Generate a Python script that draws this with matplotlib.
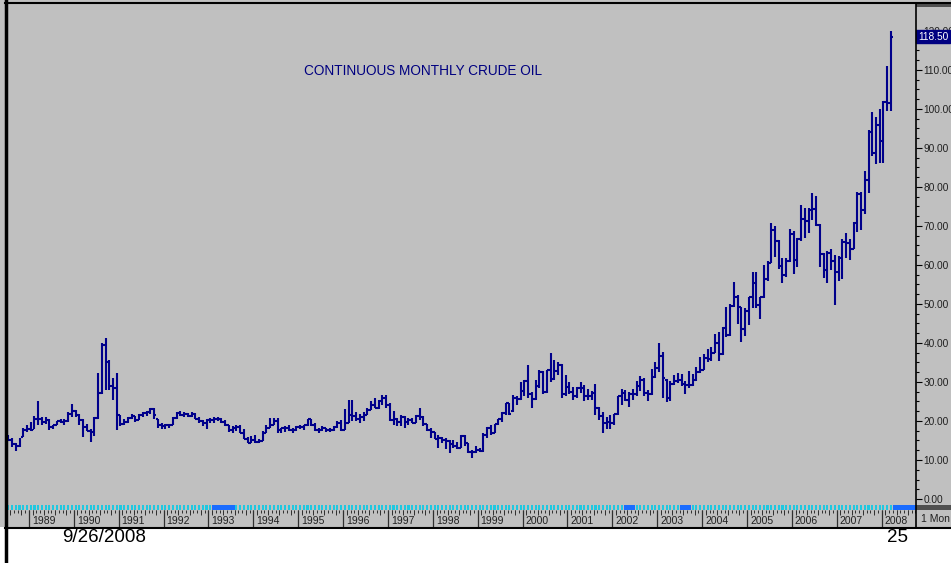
import numpy as np
import matplotlib
matplotlib.use("Agg")
import matplotlib.pyplot as plt
from matplotlib.lines import Line2D
from matplotlib.patches import Rectangle
from matplotlib.ticker import FormatStrFormatter
from matplotlib.transforms import blended_transform_factory

# monthly crude oil bars, Aug 1988 .. Apr 2008 (one row per year)
opens = [
    15.4, 15.2, 14.2, 13.6, 16.0,
    17.6, 18.0, 18.0, 20.5, 20.6, 19.8, 20.3, 18.5, 18.9, 19.9, 19.8, 20.1,
    21.8, 22.6, 21.5, 20.3, 18.5, 17.5, 17.1, 20.7, 27.3, 39.5, 35.2, 29.0,
    28.4, 21.5, 19.3, 19.7, 20.8, 21.3, 20.3, 21.6, 22.0, 22.2, 23.2, 20.4,
    19.1, 18.8, 18.9, 19.1, 20.7, 22.1, 21.6, 21.8, 21.4, 21.9, 20.6, 19.9,
    19.5, 20.3, 20.2, 20.4, 20.6, 19.8, 18.9, 17.8, 18.1, 18.5, 17.0, 15.5,
    14.4, 15.2, 14.6, 14.9, 16.9, 18.3, 19.1, 20.1, 17.6, 18.2, 18.2, 17.8,
    17.8, 18.4, 18.5, 19.1, 20.4, 19.0, 17.6, 17.6, 18.1, 17.6, 17.6, 18.4,
    19.6, 17.7, 19.5, 21.5, 21.2, 20.5, 20.9, 21.5, 22.9, 24.2, 23.4, 25.2,
    25.9, 24.2, 20.3, 20.4, 19.7, 20.9, 19.8, 20.2, 19.6, 21.2, 21.1, 19.2,
    17.6, 17.2, 15.4, 15.6, 15.2, 14.9, 14.0, 13.5, 13.1, 16.1, 14.4, 12.0,
    12.0, 12.6, 12.3, 16.3, 18.3, 16.9, 19.2, 20.5, 22.1, 24.5, 22.5, 26.0,
    25.6, 27.6, 30.2, 26.9, 25.7, 29.0, 32.5, 27.4, 33.1, 30.8, 32.7, 34.4,
    26.8, 28.7, 27.4, 26.3, 28.5, 28.4, 26.3, 26.4, 27.2, 23.4, 21.2, 19.4,
    19.8, 19.5, 21.7, 26.3, 27.3, 25.3, 26.9, 27.0, 28.9, 30.5, 27.2, 26.9,
    31.2, 33.5, 36.6, 30.5, 25.8, 29.6, 30.2, 30.5, 29.5, 29.2, 29.1, 30.4,
    32.5, 33.0, 36.2, 35.8, 37.4, 39.9, 37.1, 43.8, 42.1, 49.6, 51.8, 49.1,
    43.5, 48.2, 51.8, 55.4, 49.7, 51.9, 56.5, 60.6, 68.9, 66.2, 59.8, 57.3,
    61.0, 67.9, 61.4, 66.6, 71.9, 71.3, 74.0, 74.4, 70.3, 62.9, 58.7, 63.1,
    61.1, 58.1, 61.8, 65.9, 65.7, 64.0, 70.7, 78.2, 74.0, 81.7, 94.0, 88.7,
    96.0, 91.8, 101.8, 101.6,
]
highs = [
    16.4, 15.6, 14.4, 15.6, 18.2,
    18.9, 19.8, 21.3, 25.1, 21.0, 20.9, 20.5, 19.0, 20.0, 20.5, 20.4, 22.2,
    24.3, 22.8, 21.7, 20.4, 19.2, 17.9, 20.9, 32.3, 40.0, 41.2, 35.6, 31.0,
    32.3, 21.5, 20.5, 21.0, 21.7, 21.3, 21.7, 22.3, 22.6, 23.4, 23.4, 20.6,
    19.5, 19.3, 19.3, 20.9, 22.3, 22.6, 22.2, 22.0, 22.2, 22.0, 21.0, 20.3,
    20.5, 20.8, 21.0, 21.0, 20.8, 20.3, 19.1, 18.6, 19.1, 19.1, 17.9, 15.9,
    16.2, 16.5, 15.5, 17.5, 19.0, 20.8, 20.8, 20.8, 18.3, 18.7, 19.1, 18.3,
    18.7, 19.1, 19.1, 20.6, 20.4, 19.4, 18.3, 18.7, 18.3, 18.3, 18.7, 19.9,
    20.3, 23.1, 25.4, 25.4, 22.2, 21.8, 22.3, 23.3, 25.0, 25.9, 25.4, 26.6,
    26.6, 24.5, 22.6, 20.8, 21.6, 21.2, 20.8, 20.8, 21.6, 23.3, 21.2, 19.3,
    18.2, 17.3, 16.4, 16.0, 15.6, 15.0, 15.0, 14.5, 16.4, 16.4, 14.4, 12.6,
    13.5, 13.0, 16.8, 18.5, 18.9, 19.3, 20.5, 22.3, 24.6, 24.5, 26.6, 26.5,
    30.0, 30.4, 34.4, 27.4, 30.4, 33.0, 32.8, 33.2, 37.4, 35.6, 35.2, 34.5,
    31.8, 30.1, 28.7, 28.7, 30.0, 29.3, 28.2, 27.8, 29.5, 23.5, 22.3, 21.1,
    21.5, 21.9, 26.5, 28.2, 28.0, 27.4, 28.2, 30.2, 31.5, 31.0, 27.9, 33.3,
    35.1, 40.0, 37.7, 30.8, 30.3, 31.9, 32.3, 32.0, 30.3, 32.7, 32.0, 33.9,
    36.3, 37.1, 38.5, 38.9, 42.4, 42.7, 44.0, 49.3, 50.0, 55.7, 52.3, 49.3,
    48.9, 51.9, 58.3, 58.3, 51.9, 60.0, 61.0, 70.8, 70.0, 66.5, 61.8, 61.8,
    69.2, 68.6, 66.9, 75.3, 74.5, 74.5, 78.4, 77.6, 70.5, 63.0, 63.6, 64.2,
    62.6, 62.2, 66.7, 68.1, 66.6, 71.0, 78.8, 78.8, 84.1, 94.5, 99.3, 98.0,
    100.1, 102.1, 111.0, 119.9,
]
lows = [
    15.1, 13.3, 12.2, 13.4, 15.9,
    17.2, 17.4, 17.9, 19.0, 19.0, 19.3, 17.8, 18.0, 18.9, 19.5, 19.0, 19.8,
    21.0, 21.0, 19.0, 15.9, 17.5, 14.6, 16.1, 20.5, 27.0, 27.9, 28.0, 25.4,
    17.7, 18.7, 19.0, 19.6, 20.4, 19.8, 20.2, 21.0, 21.2, 21.8, 20.5, 18.2,
    18.0, 18.0, 18.2, 19.1, 20.5, 21.3, 20.9, 20.9, 20.9, 20.4, 19.5, 18.8,
    18.0, 19.5, 19.6, 20.0, 19.5, 18.8, 17.3, 17.0, 17.5, 17.0, 15.5, 14.4,
    14.3, 14.4, 14.4, 14.9, 16.9, 18.3, 19.1, 17.0, 17.0, 17.1, 17.5, 17.0,
    17.5, 17.9, 17.7, 18.7, 18.7, 17.5, 17.0, 17.5, 17.3, 17.1, 17.5, 18.3,
    17.5, 17.7, 19.5, 19.9, 19.9, 19.5, 19.9, 21.5, 22.8, 23.3, 23.0, 24.1,
    23.3, 19.9, 19.1, 18.8, 18.7, 18.3, 19.1, 19.5, 19.5, 20.3, 18.7, 17.5,
    15.6, 15.4, 13.0, 14.3, 12.8, 11.8, 13.2, 12.7, 13.1, 13.6, 11.8, 10.5,
    11.8, 12.0, 12.0, 15.6, 16.4, 16.8, 19.0, 19.8, 21.5, 21.5, 22.2, 24.0,
    25.4, 26.5, 26.0, 23.3, 25.5, 28.5, 26.8, 27.3, 30.0, 30.4, 31.8, 26.0,
    26.5, 26.8, 25.4, 25.9, 27.2, 25.0, 25.5, 25.4, 21.5, 20.2, 17.0, 17.9,
    17.9, 19.0, 21.5, 24.0, 25.0, 23.6, 25.3, 26.5, 27.8, 26.5, 25.0, 26.6,
    30.9, 32.6, 26.0, 24.9, 25.1, 29.3, 29.7, 29.0, 26.8, 28.5, 29.0, 30.3,
    32.3, 33.0, 35.1, 35.5, 37.4, 35.5, 37.0, 41.5, 41.9, 49.3, 44.9, 40.3,
    41.8, 44.6, 49.0, 49.0, 46.2, 51.5, 56.0, 60.5, 62.0, 59.0, 55.3, 57.0,
    60.8, 57.6, 59.5, 66.2, 67.0, 68.3, 71.5, 69.9, 59.5, 56.6, 55.4, 58.7,
    49.7, 56.0, 56.4, 61.9, 61.4, 64.0, 68.5, 69.0, 73.0, 78.5, 88.0, 86.0,
    86.1, 86.1, 99.5, 99.5,
]
closes = [
    15.2, 14.2, 13.6, 15.3, 17.6,
    18.0, 17.8, 20.5, 20.6, 19.8, 20.3, 18.5, 18.9, 19.9, 19.8, 20.1, 21.8,
    22.6, 21.5, 20.3, 18.5, 17.5, 17.1, 20.7, 27.3, 39.5, 35.2, 29.0, 28.4,
    21.5, 19.3, 19.7, 20.8, 21.3, 20.3, 21.6, 22.0, 22.2, 23.2, 21.5, 19.1,
    18.8, 18.9, 19.1, 20.7, 22.1, 21.6, 21.8, 21.4, 21.9, 20.6, 19.9, 19.5,
    20.3, 20.2, 20.4, 20.6, 19.8, 18.9, 17.8, 18.1, 18.5, 17.0, 15.5, 14.4,
    15.2, 14.6, 14.9, 16.9, 18.3, 19.1, 20.1, 17.6, 18.2, 18.2, 17.8, 17.8,
    18.4, 18.5, 19.1, 20.4, 19.0, 17.6, 17.6, 18.1, 17.6, 17.6, 18.4, 19.6,
    17.7, 19.5, 21.5, 21.2, 20.5, 20.9, 21.5, 22.9, 24.2, 23.4, 25.2, 25.9,
    24.2, 20.3, 20.4, 19.7, 20.9, 19.8, 20.2, 19.6, 21.2, 21.1, 19.2, 17.6,
    17.2, 15.4, 15.6, 15.2, 14.9, 14.0, 13.5, 13.1, 16.1, 14.4, 12.0, 12.0,
    12.6, 12.3, 16.3, 18.3, 16.9, 19.2, 20.5, 22.1, 24.5, 21.8, 26.0, 25.6,
    27.6, 30.2, 26.9, 25.7, 29.0, 32.5, 27.4, 33.1, 30.8, 32.7, 34.4, 26.8,
    28.7, 27.4, 26.3, 28.5, 28.4, 26.3, 26.4, 27.2, 23.4, 21.2, 19.4, 19.8,
    19.5, 21.7, 26.3, 27.3, 25.3, 26.9, 27.0, 28.9, 30.5, 27.2, 26.9, 31.2,
    33.5, 36.6, 31.0, 25.8, 29.6, 30.2, 30.5, 29.5, 29.2, 29.1, 30.4, 32.5,
    33.0, 36.2, 35.8, 37.4, 39.9, 37.1, 43.8, 42.1, 49.6, 51.8, 49.1, 43.5,
    48.2, 51.8, 55.4, 49.7, 51.9, 56.5, 60.6, 68.9, 66.2, 59.8, 57.3, 61.0,
    67.9, 61.4, 66.6, 71.9, 71.3, 74.0, 74.4, 70.3, 62.9, 58.7, 63.1, 61.1,
    58.1, 61.8, 65.9, 65.7, 64.0, 70.7, 78.2, 74.0, 81.7, 94.0, 88.7, 96.0,
    91.8, 101.8, 101.6, 118.5,
]
years = list(range(1989, 2009))
# month spans marked in bright blue on the strip under the bars
marked_spans = [(50, 55), (160, 162), (175, 177), (232, 238)]

W, H = 951, 563
NAVY = "#00008b"
GRAY = "#c0c0c0"
TXT = "#202020"
plt.rcParams["font.family"] = ["Liberation Sans", "DejaVu Sans"]

fig = plt.figure(figsize=(W / 100, H / 100), dpi=100, facecolor="white")


def fbox(x0, y0, x1, y1):
    return [x0 / W, 1 - y1 / H, (x1 - x0) / W, (y1 - y0) / H]


def fline(xs, ys, **kw):
    fig.add_artist(Line2D([x / W for x in xs], [1 - y / H for y in ys],
                          transform=fig.transFigure, zorder=10, **kw))


def frect(x0, y0, x1, y1, color, z=-10):
    fig.add_artist(Rectangle((x0 / W, 1 - y1 / H), (x1 - x0) / W, (y1 - y0) / H,
                             transform=fig.transFigure, color=color, lw=0, zorder=z))


frect(0, 0, W, 527, GRAY)

months = np.arange(-5, -5 + len(closes))
xlim = (-5.08, 237.7)

# price bars
ax = fig.add_axes(fbox(8, 4, 916, 504))
ax.set_facecolor(GRAY)
ax.vlines(months, lows, highs, color=NAVY, lw=1.5)
ax.hlines(opens, months - 0.5, months, color=NAVY, lw=1.5)
ax.hlines(closes, months, months + 0.5, color=NAVY, lw=1.5)
ax.set_xlim(*xlim)
ax.set_ylim(-1.28, 126.9)
for s in ax.spines.values():
    s.set_visible(False)
ax.set_xticks([])
ax.yaxis.tick_right()
ax.set_yticks(np.arange(0, 121, 10))
ax.set_yticks(np.arange(0, 121, 2.5), minor=True)
ax.yaxis.set_major_formatter(FormatStrFormatter("%.2f"))
ax.tick_params(axis="y", which="major", length=4, width=0.8, pad=1.5,
               labelsize=7.3, labelcolor=TXT, color="black")
ax.tick_params(axis="y", which="minor", length=2, width=0.8, color="black")

ax.text(1.002, closes[-1], f"{closes[-1]:.2f}",
        transform=blended_transform_factory(ax.transAxes, ax.transData),
        color="white", fontsize=7.3, va="center", ha="left", clip_on=False,
        bbox=dict(boxstyle="square,pad=0.15", fc="#000080", ec="#000080"))

fig.text(423.5 / W, 1 - 71 / H, "CONTINUOUS MONTHLY CRUDE OIL",
         color="#000080", fontsize=9.8, ha="center", va="center")

# dotted strip
axs = fig.add_axes(fbox(8, 505, 916, 509.5))
axs.set_facecolor("#0a2a70")
all_months = np.arange(-5, 238)
axs.bar(all_months, 1, width=0.55, color="#20c8e0", align="center")
for a, b in marked_spans:
    axs.axvspan(a - 0.5, b + 0.5, color="#1a6cff", lw=0)
axs.set_xlim(*xlim)
axs.set_ylim(0, 1)
axs.axis("off")
axs.patch.set_visible(True)

# date axis
axd = fig.add_axes(fbox(8, 509.5, 916, 527))
axd.set_facecolor(GRAY)
axd.set_xlim(*xlim)
axd.set_ylim(0, 1)
year_pos = [(y - 1989) * 12 + 0.5 for y in years]
axd.vlines(all_months + 0.5, 0.8, 1, color="#303030", lw=0.7)
axd.vlines(all_months[::3] + 0.5, 0.68, 1, color="#303030", lw=0.7)
axd.vlines(year_pos, 0, 1, color="#303030", lw=0.9)
for y, p in zip(years, year_pos):
    axd.text(p + 0.8, 0.36, str(y), fontsize=7.5, color=TXT, va="center")
for s in axd.spines.values():
    s.set_visible(False)
axd.set_xticks([])
axd.set_yticks([])

# right column bits and frame
frect(916, 3, 951, 7, "#505050", z=5)
frect(916, 505, 951, 509.5, "#505050", z=5)
fig.text(921 / W, 1 - 519 / H, "1 Mon", fontsize=7.5, color=TXT, va="center")
fline([5.5, 5.5], [0, 563], color="black", lw=2.5)
fline([5, 951], [2.5, 2.5], color="black", lw=1.5)
fline([916, 916], [3, 527], color="black", lw=1.2)
fline([5, 951], [527.5, 527.5], color="black", lw=1.5)

fig.text(62 / W, 1 - 538 / H, "9/26/2008", fontsize=13.5, color="black", va="center")
fig.text(898 / W, 1 - 538 / H, "25", fontsize=13.5, color="black", va="center", ha="center")

fig.savefig("out.png", dpi=100, facecolor="white")
